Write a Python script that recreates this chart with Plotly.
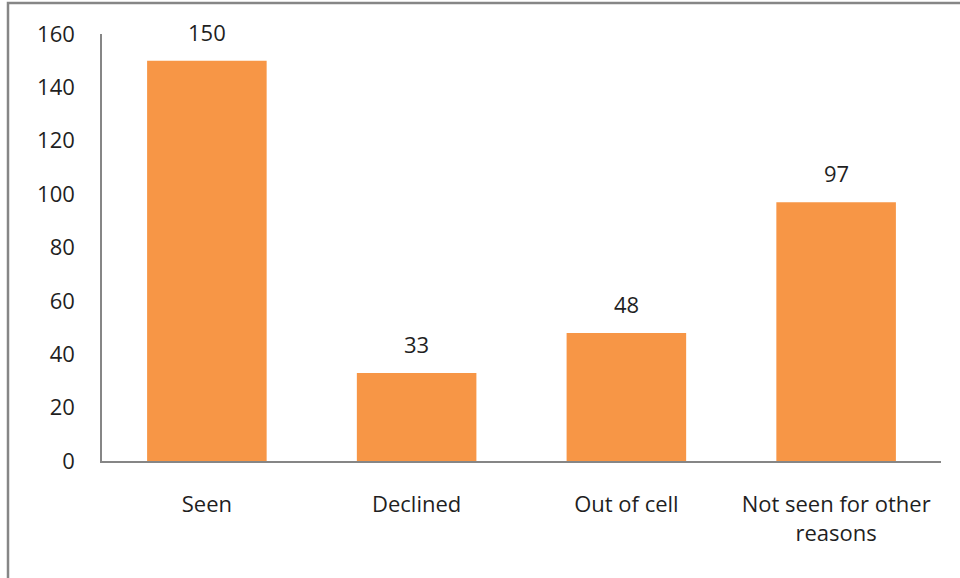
import plotly.graph_objects as go

categories = ["Seen", "Declined", "Out of cell", "Not seen for other<br>reasons"]
values = [150, 33, 48, 97]
y_ticks = [0, 20, 40, 60, 80, 100, 120, 140, 160]

W, H = 960, 578
L, R, T, B = 102, 19, 34, 117
pw, ph = W - L - R, H - T - B

FONT = "Open Sans"
TXT = "#1f1f1f"
fig = go.Figure()
fig.add_trace(go.Bar(
    x=categories, y=values, marker=dict(color="#F79646", line=dict(width=0)),
    width=0.57, hoverinfo="x+y",
))
for c, v in zip(categories, values):
    fig.add_annotation(x=c, y=v, text=str(v), showarrow=False, yanchor="bottom",
                       yshift=12, font=dict(family=FONT, size=22, color=TXT))

fig.add_shape(type="rect", xref="paper", yref="paper",
              x0=(8 - L) / pw, x1=(990 - L) / pw,
              y0=(H - B - 610) / ph, y1=(H - B - 3) / ph,
              line=dict(color="#868686", width=2.5), layer="above")

fig.update_layout(
    width=W, height=H, margin=dict(l=L, r=R, t=T, b=B, pad=0),
    paper_bgcolor="white", plot_bgcolor="white", showlegend=False,
    font=dict(family=FONT, size=22, color=TXT),
)
fig.update_xaxes(range=[-0.5, 3.5], showline=True, linecolor="#868686", linewidth=1.5,
                 showgrid=False, ticks="", ticklabelstandoff=23, tickfont=dict(size=22))
fig.update_yaxes(range=[0, 160], tickvals=y_ticks, showline=True, linecolor="#868686",
                 linewidth=1.5, showgrid=False, zeroline=False, ticks="",
                 ticklabelstandoff=21, tickfont=dict(size=22))
fig.write_html("out.html", config={"displayModeBar": False},
               post_script="document.body.style.margin='0';document.body.style.overflow='hidden';")
